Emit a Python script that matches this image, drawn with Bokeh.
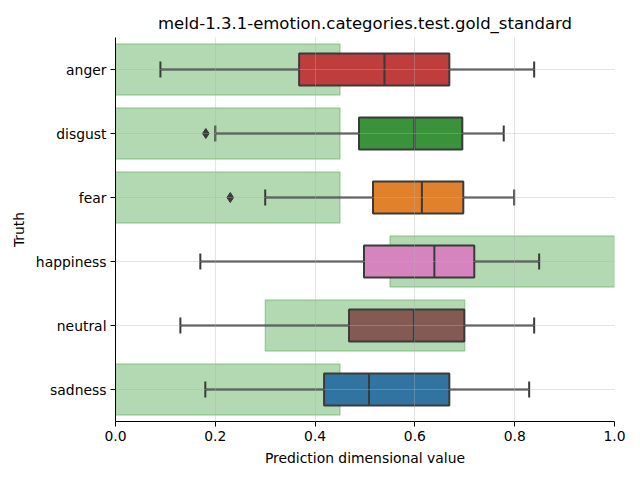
from bokeh.plotting import figure
from bokeh.models import FactorRange, Range1d, FixedTicker, ColumnDataSource, NumeralTickFormatter
from bokeh.embed import file_html
from bokeh.resources import INLINE

categories = ["anger", "disgust", "fear", "happiness", "neutral", "sadness"]
whisker_low = [0.09, 0.20, 0.30, 0.17, 0.13, 0.18]
q1 = [0.368, 0.488, 0.516, 0.498, 0.468, 0.418]
median = [0.539, 0.599, 0.614, 0.639, 0.598, 0.508]
q3 = [0.669, 0.695, 0.697, 0.719, 0.699, 0.669]
whisker_high = [0.839, 0.778, 0.799, 0.849, 0.839, 0.829]
outlier_cat = ["disgust", "fear"]
outlier_val = [0.181, 0.230]
gold_low = [0.0, 0.0, 0.0, 0.55, 0.30, 0.0]
gold_high = [0.45, 0.45, 0.45, 1.0, 0.70, 0.45]
box_colors = ["#c03d3e", "#3a923a", "#e1812c", "#d684bd", "#845b53", "#3274a1"]
x_ticks = [0.0, 0.2, 0.4, 0.6, 0.8, 1.0]

FONT = "DejaVu Sans"
EDGE = "#3a3a3a"
LW = 2.0

p = figure(width=632, height=471, output_backend="svg", toolbar_location=None,
           y_range=FactorRange(factors=categories[::-1], range_padding=0),
           x_range=Range1d(0, 1),
           min_border_left=115, min_border_right=18, min_border_top=37, min_border_bottom=50,
           title="meld-1.3.1-emotion.categories.test.gold_standard")

p.title.text_font = FONT
p.title.text_font_size = "16.5px"
p.title.text_font_style = "normal"
p.title.align = "center"
p.title.text_color = "black"

src = ColumnDataSource(dict(cat=categories, wl=whisker_low, q1=q1, med=median, q3=q3, wh=whisker_high,
                            gl=gold_low, gh=gold_high, color=box_colors))

# gold standard regions
p.hbar(y="cat", left="gl", right="gh", height=0.8, source=src,
       fill_color="green", fill_alpha=0.3, line_color="green", line_alpha=0.3, line_width=1.2)

# whiskers
p.segment(x0="wl", x1="q1", y0="cat", y1="cat", source=src, line_color=EDGE, line_width=LW)
p.segment(x0="q3", x1="wh", y0="cat", y1="cat", source=src, line_color=EDGE, line_width=LW)

# caps
cap_lo = [(c, -0.125) for c in categories]
cap_hi = [(c, 0.125) for c in categories]
caps = ColumnDataSource(dict(wl=whisker_low, wh=whisker_high, y0=cap_lo, y1=cap_hi))
p.segment(x0="wl", x1="wl", y0="y0", y1="y1", source=caps, line_color=EDGE, line_width=LW)
p.segment(x0="wh", x1="wh", y0="y0", y1="y1", source=caps, line_color=EDGE, line_width=LW)

# boxes
p.hbar(y="cat", left="q1", right="q3", height=0.5, source=src,
       fill_color="color", line_color=EDGE, line_width=LW)

# medians
med = ColumnDataSource(dict(m=median,
                            y0=[(c, -0.25) for c in categories],
                            y1=[(c, 0.25) for c in categories]))
p.segment(x0="m", x1="m", y0="y0", y1="y1", source=med, line_color=EDGE, line_width=LW)

# outliers
p.scatter(x=outlier_val, y=outlier_cat, marker="diamond", size=10, fill_color=EDGE, line_color=EDGE)

# axes
p.xaxis.ticker = FixedTicker(ticks=x_ticks)
p.xaxis.formatter = NumeralTickFormatter(format="0.0")
p.xaxis.axis_label = "Prediction dimensional value"
p.yaxis.axis_label = "Truth"
for ax in (p.xaxis[0], p.yaxis[0]):
    ax.axis_label_text_font = FONT
    ax.axis_label_text_font_size = "13.9px"
    ax.axis_label_text_font_style = "normal"
    ax.axis_label_text_color = "black"
    ax.major_label_text_font = FONT
    ax.major_label_text_font_size = "13.9px"
    ax.major_label_text_color = "black"
    ax.axis_line_color = "black"
    ax.major_tick_line_color = "black"
    ax.major_tick_out = 5
    ax.major_tick_in = 0
    ax.minor_tick_line_color = None
    ax.axis_label_standoff = 6
p.yaxis.major_label_standoff = 4
p.xaxis.major_label_standoff = 4

p.grid.grid_line_color = "#b0b0b0"
p.grid.grid_line_alpha = 0.45
p.grid.grid_line_width = 0.8
p.grid.level = "overlay"
p.outline_line_color = None
p.background_fill_color = "white"
p.border_fill_color = "white"

open("out.html", "w").write(file_html(p, INLINE))
